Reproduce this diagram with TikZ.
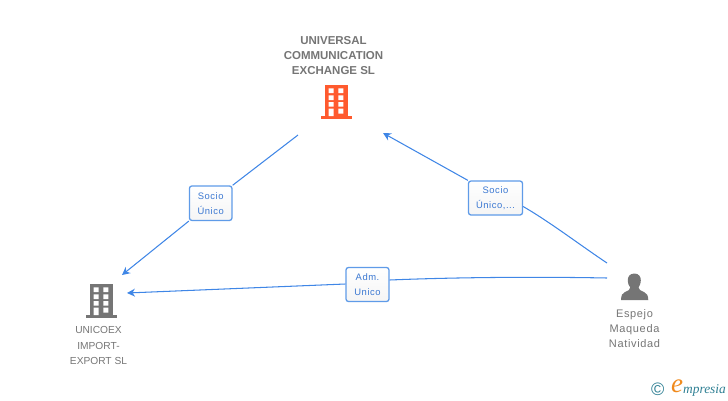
\documentclass[tikz,border=0pt]{standalone}
\usepackage{fontspec}
\setmainfont{Liberation Sans}
\newfontfamily\spaced[LetterSpace=6]{Liberation Sans}
\newfontfamily\logofont{Liberation Serif}
\usetikzlibrary{arrows.meta}
\definecolor{linkblue}{HTML}{3F86E6}
\definecolor{boxblue}{HTML}{5F9BE8}
\definecolor{labelblue}{HTML}{3B78D2}
\definecolor{orangeb}{HTML}{FF5A2E}
\definecolor{greyb}{HTML}{757575}
\definecolor{teal}{HTML}{2E7F93}
\definecolor{logoor}{HTML}{F08A1D}
\tikzset{
  x=1pt,y=-1pt,
  link/.style={draw=linkblue,line width=1.05pt},
  arrowlink/.style={link,-{Stealth[length=8pt,width=8pt]}},
  tag/.style={draw=boxblue,line width=1.3pt,rounded corners=2.5pt,top color=white,bottom color=black!4,inner sep=0pt,align=center,text=labelblue,font=\spaced\fontsize{9.4}{15}\selectfont},
  title/.style={align=center,text=greyb,font=\bfseries\fontsize{11.5}{15}\selectfont,inner sep=0pt},
  caption/.style={align=center,text=greyb,font=\fontsize{10.2}{15.5}\selectfont,inner sep=0pt},
  personcap/.style={align=center,text=greyb,font=\spaced\fontsize{11}{15}\selectfont,inner sep=0pt},
}
\newcommand{\buildingicon}[3]{%
  \begin{scope}[shift={(#1,#2)}]
    \fill[#3] (4.5,0) rectangle (27,31);
    \fill[#3] (0,31) rectangle (31.5,33.8);
    \fill[white]
      (8.2,3.3) rectangle (13,8.2) (17.8,3.3) rectangle (22.8,8.2)
      (8.2,10.3) rectangle (13,15) (17.8,10.3) rectangle (22.8,15)
      (8.2,17) rectangle (13,21.5) (17.8,17) rectangle (22.8,21.5)
      (8.2,23.5) rectangle (13,31) (17.8,23.5) rectangle (22.8,28.5);
  \end{scope}}
\begin{document}
\begin{tikzpicture}
\useasboundingbox (0,0) rectangle (728,400);
\buildingicon{320.5}{85}{orangeb}
\buildingicon{85.5}{284}{greyb}
\fill[greyb] (634.3,273.5) .. controls (639,273.5) and (641,277) .. (640.8,280.5)
  .. controls (640.6,284) and (639.5,286) .. (638.5,287.5)
  .. controls (638.5,290) and (641,290.5) .. (644,292)
  .. controls (647,293.5) and (648,295) .. (648.3,300)
  -- (621,300)
  .. controls (621.3,295) and (622,293.5) .. (625,292)
  .. controls (628,290.5) and (630.3,290) .. (630.3,287.5)
  .. controls (629,286) and (628,284) .. (627.8,280.5)
  .. controls (627.6,277) and (629.6,273.5) .. (634.3,273.5) -- cycle;

\node[title] (top) at (333.5,56) {UNIVERSAL\\COMMUNICATION\\EXCHANGE SL};
\node[caption] (left) at (98.5,345.5) {UNICOEX\\IMPORT-\\EXPORT SL};
\node[personcap] (right) at (634.5,328.5) {Espejo\\Maqueda\\Natividad};

\coordinate (a1) at (298,135);
\coordinate (a2) at (122,275);
\coordinate (b1) at (607,263);
\coordinate (b2) at (383,133);
\coordinate (c1) at (607,278);
\coordinate (c2) at (127,293);

\node[tag,minimum width=42.5pt,minimum height=34.5pt] (t1) at (210.7,203.2) {Socio\\Único};
\node[tag,minimum width=54pt,minimum height=34pt] (t2) at (495.5,198) {Socio\\Único,...};
\node[tag,minimum width=43pt,minimum height=34pt] (t3) at (367.5,284.5) {Adm.\\Unico};

\draw[link] (a1) -- (t1.north east);
\draw[arrowlink] (t1.south west) -- (a2);
\draw[link] (b1) .. controls (580,245) and (550,222) .. ([yshift=-8.5pt]t2.east);
\draw[arrowlink] (t2.north west) -- (b2);
\draw[link] (c1) .. controls (530,276.5) and (450,277.5) .. ([yshift=4.5pt]t3.east);
\draw[arrowlink] ([yshift=0.5pt]t3.west) -- (c2);

\node[text=teal,font=\fontsize{18}{18}\selectfont,inner sep=0pt] (copy) at (657.8,389) {©};
\node[text=logoor,font=\logofont\itshape\fontsize{27}{27}\selectfont,inner sep=0pt] (elog) at (677,386.5) {e};
\node[text=teal,font=\logofont\itshape\fontsize{13.4}{13.4}\selectfont,inner sep=0pt,anchor=west] (mpr) at (683,390) {mpresia};
\end{tikzpicture}
\end{document}
